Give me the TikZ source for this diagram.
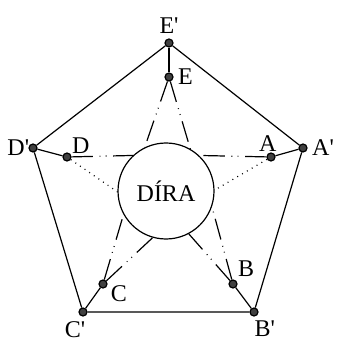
\documentclass[tikz,border=0pt]{standalone}
\usepackage{fontspec}
\setmainfont{Liberation Serif}
\usetikzlibrary{positioning}

\begin{document}
\begin{tikzpicture}[
    x=0.75pt, y=-0.75pt,
    line width=0.9pt,
    % --- estilos ---
    dot/.style={circle, draw=black, fill=black!75, inner sep=0pt, minimum size=6pt},
    lbl/.style={inner sep=1pt, font=\fontsize{18}{21}\selectfont},
    hole/.style={circle, draw, fill=white, minimum size=72pt, inner sep=0pt,
                 font=\fontsize{18}{21}\selectfont},
    ray/.style={dash pattern=on 16pt off 5pt on 0.6pt off 4pt on 0.6pt off 5pt},
    dotray/.style={dash pattern=on 0.7pt off 3.5pt}
]
\useasboundingbox (0,0) rectangle (336,341);

% ====== vnejsi petiuhelnik ======
\node[dot] (Ep) at (169,43) {};
\node[dot] (Ap) at (303,148) {};
\node[dot] (Bp) at (254,312) {};
\node[dot] (Cp) at (83,312) {};
\node[dot] (Dp) at (33,148) {};

% ====== vnitrni body ======
\node[dot] (E) at (169,77) {};
\node[dot] (A) at (271,157) {};
\node[dot] (B) at (233,284) {};
\node[dot] (C) at (103,284) {};
\node[dot] (D) at (67,157) {};

\node[hole] (hole) at (166,191) {DÍRA};

% --- popisky ---
\node[lbl] (EpL) [above=2.5pt of Ep] {E\textquotesingle};
\node[lbl] (ApL) [right=2pt of Ap] {A\textquotesingle};
\node[lbl] (BpL) [below=2pt of Bp, xshift=8pt] {B\textquotesingle};
\node[lbl] (CpL) [below=2pt of Cp, xshift=-6pt] {C\textquotesingle};
\node[lbl] (DpL) [left=-2pt of Dp] {D\textquotesingle};
\node[lbl] (EL) [right=2pt of E] {E};
\node[lbl] (AL) [above=-1pt of A, xshift=-2.5pt] {A};
\node[lbl] (BL) [above right=1.5pt and 0pt of B] {B};
\node[lbl] (CL) [below right=-3pt and 2pt of C] {C};
\node[lbl] (DL) [above right=-1pt and 0pt of D] {D};

% --- spojnice ---
\draw (Ep) -- (Ap) -- (Bp) -- (Cp) -- (Dp) -- (Ep);
\foreach \p in {A,B,C,D,E}
    \draw (\p p) -- (\p);

% --- paprsky k dire ---
\draw[ray] (E) -- (hole.116);
\draw[ray] (E) -- (hole.60);
\draw[ray] (A) -- (hole.47);
\draw[dotray] (A) -- (hole.1);
\draw[ray] (B) -- (hole.-19);
\draw[ray] (B) -- (hole.-62);
\draw[ray] (C) -- (hole.209);
\draw[ray] (C) -- (hole.254);
\draw[ray] (D) -- (hole.133);
\draw[dotray] (D) -- (hole.181);

\end{tikzpicture}
\end{document}
